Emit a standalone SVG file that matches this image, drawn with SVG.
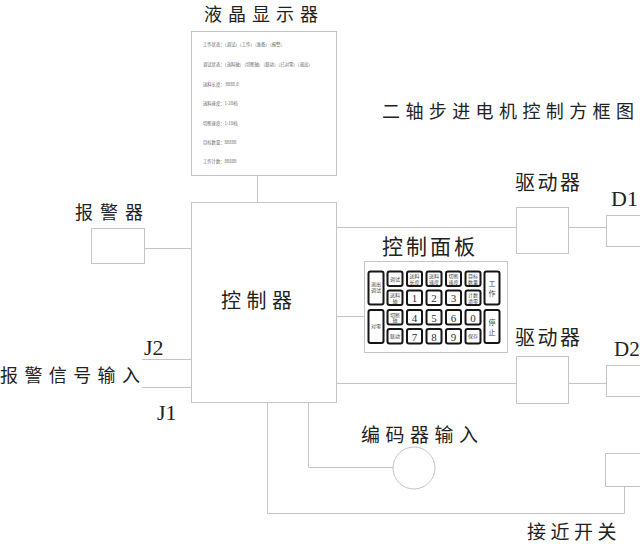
<svg xmlns="http://www.w3.org/2000/svg" width="640" height="544" viewBox="0 0 640 544">
<style>
.ln{fill:none;stroke:#c4c4c4;stroke-width:1}
.bx{fill:#fff;stroke:#c4c4c4;stroke-width:1}
.key{fill:#fff;stroke:#151515;stroke-width:2}
.cn{font-family:"Noto Sans CJK SC","Noto Sans",sans-serif;fill:#222}
.lat{font-family:"Liberation Serif",serif;fill:#222}
.lcd{font-family:"Noto Sans CJK SC",sans-serif;font-size:4.3px;fill:#666}
.ks{font-family:"Noto Sans CJK SC",sans-serif;font-size:5px;fill:#444;text-anchor:middle}
.kn{font-family:"Liberation Serif",serif;font-size:11px;fill:#333;text-anchor:middle}
.kb{font-family:"Noto Sans CJK SC",sans-serif;font-size:7px;fill:#444;text-anchor:middle}
</style>
<rect width="640" height="544" fill="#fff"/>

<g id="connectors">
  <path class="ln" d="M257.5 175.5V202.5"/>
  <path class="ln" d="M144.5 248.5H191.5"/>
  <path class="ln" d="M142 359.5H191.5"/>
  <path class="ln" d="M142 387.5H191.5"/>
  <path class="ln" d="M336.5 227.5H516.5"/>
  <path class="ln" d="M568.5 227.5H606.5"/>
  <path class="ln" d="M336.5 316.5H364.5"/>
  <path class="ln" d="M336.5 383.5H516.5"/>
  <path class="ln" d="M568.5 383.5H606.5"/>
  <path class="ln" d="M308.5 402.5V467.5H393"/>
  <path class="ln" d="M267.5 402.5V513.5H624.5V486.5"/>
</g>

<g id="title">
  <text class="cn" x="382" y="118" font-size="18" letter-spacing="5.4">二轴步进电机控制方框图</text>
</g>

<g id="lcd">
  <text class="cn" x="204" y="21" font-size="18" letter-spacing="6">液晶显示器</text>
  <rect class="bx" x="191.5" y="31.5" width="145" height="144"/>
  <text class="lcd" x="203" y="46">工作状态：（调试）（工作）（准备）（报警）</text>
  <text class="lcd" x="203" y="66">调试状态：（送料轴）（切断轴）（联动）（已对零）（退出）</text>
  <text class="lcd" x="203" y="86">送料长度：  8888.8</text>
  <text class="lcd" x="203" y="105">送料速度：1-20档</text>
  <text class="lcd" x="203" y="125">切断速度：1-10档</text>
  <text class="lcd" x="203" y="144">目标数量：88888</text>
  <text class="lcd" x="203" y="163">工作计数：88888</text>
</g>

<g id="controller">
  <rect class="bx" x="191.5" y="202.5" width="145" height="200"/>
  <text class="cn" x="221" y="308" font-size="20" letter-spacing="5.5">控制器</text>
</g>

<g id="alarm">
  <text class="cn" x="75" y="219" font-size="18" letter-spacing="7">报警器</text>
  <rect class="bx" x="91.5" y="228.5" width="53" height="35"/>
</g>

<g id="alarm-input">
  <text class="lat" x="144" y="355" font-size="22">J2</text>
  <text class="cn" x="0" y="382" font-size="18" letter-spacing="6.4">报警信号输入</text>
  <text class="lat" x="157" y="420" font-size="22">J1</text>
</g>

<g id="driver1">
  <text class="cn" x="515" y="190" font-size="20" letter-spacing="2.5">驱动器</text>
  <rect class="bx" x="516.5" y="207.5" width="52" height="46"/>
</g>
<g id="motor1">
  <text class="lat" x="611" y="206" font-size="22">D1</text>
  <rect class="bx" x="606.5" y="215.5" width="40" height="31"/>
</g>

<g id="driver2">
  <text class="cn" x="515" y="345" font-size="20" letter-spacing="2.5">驱动器</text>
  <rect class="bx" x="516.5" y="356.5" width="52" height="47"/>
</g>
<g id="motor2">
  <text class="lat" x="614" y="356" font-size="21">D2</text>
  <rect class="bx" x="606.5" y="365.5" width="40" height="31"/>
</g>

<g id="encoder">
  <text class="cn" x="361" y="442" font-size="19" letter-spacing="5.5">编码器输入</text>
  <circle class="bx" cx="414" cy="468" r="21"/>
</g>

<g id="proximity">
  <rect class="bx" x="605.5" y="453.5" width="40" height="33"/>
  <text class="cn" x="527" y="538.5" font-size="19" letter-spacing="4.5">接近开关</text>
</g>

<g id="panel">
  <text class="cn" x="382" y="254" font-size="21" letter-spacing="3">控制面板</text>
  <rect class="bx" x="364.5" y="261.5" width="143" height="91"/>
  <!-- column 1 -->
  <rect class="key" x="368.5" y="271.5" width="15" height="33" rx="2"/>
  <text class="ks" x="376" y="286">退出</text><text class="ks" x="376" y="292">调试</text>
  <rect class="key" x="368.5" y="310" width="15" height="33" rx="2"/>
  <text class="ks" x="376" y="328">对零</text>
  <!-- row 1 -->
  <rect class="key" x="387.5" y="271.5" width="15" height="14.5" rx="2"/>
  <text class="ks" x="395" y="281">调试</text>
  <rect class="key" x="407" y="271.5" width="15" height="14.5" rx="2"/>
  <text class="ks" x="414.5" y="278">送料</text><text class="ks" x="414.5" y="283.5">长度</text>
  <rect class="key" x="426.5" y="271.5" width="15" height="14.5" rx="2"/>
  <text class="ks" x="434" y="278">送料</text><text class="ks" x="434" y="283.5">速度</text>
  <rect class="key" x="446" y="271.5" width="15" height="14.5" rx="2"/>
  <text class="ks" x="453.5" y="278">切断</text><text class="ks" x="453.5" y="283.5">速度</text>
  <rect class="key" x="465.5" y="271.5" width="15" height="14.5" rx="2"/>
  <text class="ks" x="473" y="278">目标</text><text class="ks" x="473" y="283.5">数量</text>
  <!-- row 2 -->
  <rect class="key" x="387.5" y="290.5" width="15" height="14.5" rx="2"/>
  <text class="ks" x="395" y="297">送料</text><text class="ks" x="395" y="302.5">轴</text>
  <rect class="key" x="407" y="290.5" width="15" height="14.5" rx="2"/>
  <text class="kn" x="414.5" y="302">1</text>
  <rect class="key" x="426.5" y="290.5" width="15" height="14.5" rx="2"/>
  <text class="kn" x="434" y="302">2</text>
  <rect class="key" x="446" y="290.5" width="15" height="14.5" rx="2"/>
  <text class="kn" x="453.5" y="302">3</text>
  <rect class="key" x="465.5" y="290.5" width="15" height="14.5" rx="2"/>
  <text class="ks" x="473" y="297">计数</text><text class="ks" x="473" y="302.5">清零</text>
  <!-- row 3 -->
  <rect class="key" x="387.5" y="310" width="15" height="14.5" rx="2"/>
  <text class="ks" x="395" y="316.5">切断</text><text class="ks" x="395" y="322">轴</text>
  <rect class="key" x="407" y="310" width="15" height="14.5" rx="2"/>
  <text class="kn" x="414.5" y="321.5">4</text>
  <rect class="key" x="426.5" y="310" width="15" height="14.5" rx="2"/>
  <text class="kn" x="434" y="321.5">5</text>
  <rect class="key" x="446" y="310" width="15" height="14.5" rx="2"/>
  <text class="kn" x="453.5" y="321.5">6</text>
  <rect class="key" x="465.5" y="310" width="15" height="14.5" rx="2"/>
  <text class="kn" x="473" y="321.5">0</text>
  <!-- row 4 -->
  <rect class="key" x="387.5" y="329" width="15" height="14.5" rx="2"/>
  <text class="ks" x="395" y="338">联动</text>
  <rect class="key" x="407" y="329" width="15" height="14.5" rx="2"/>
  <text class="kn" x="414.5" y="340.5">7</text>
  <rect class="key" x="426.5" y="329" width="15" height="14.5" rx="2"/>
  <text class="kn" x="434" y="340.5">8</text>
  <rect class="key" x="446" y="329" width="15" height="14.5" rx="2"/>
  <text class="kn" x="453.5" y="340.5">9</text>
  <rect class="key" x="465.5" y="329" width="15" height="14.5" rx="2"/>
  <text class="ks" x="473" y="338">保存</text>
  <!-- column 7 -->
  <rect class="key" x="484.5" y="271.5" width="15" height="33" rx="2"/>
  <text class="kb" x="492" y="286">工</text><text class="kb" x="492" y="296">作</text>
  <rect class="key" x="484.5" y="310" width="15" height="33" rx="2"/>
  <text class="kb" x="492" y="324.5">停</text><text class="kb" x="492" y="334.5">止</text>
</g>
</svg>
